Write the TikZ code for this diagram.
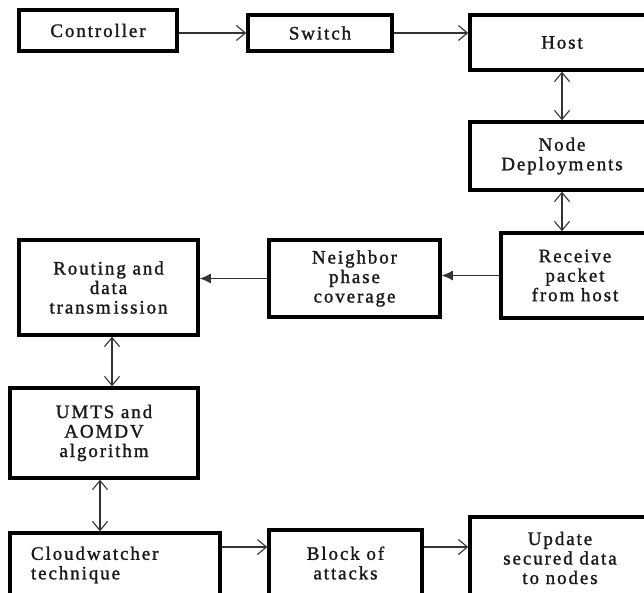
\documentclass[tikz,border=0pt]{standalone}
\usepackage{fontspec}
\setmainfont{Liberation Serif}[LetterSpace=10, FakeBold=1.3]
\usetikzlibrary{arrows.meta}
\begin{document}
\begin{tikzpicture}[x=1pt,y=-1pt,
  box/.style={draw=black, line width=3.5pt, fill=white, inner sep=0pt,
    align=center, font=\fontsize{19}{19.5}\selectfont, text=black!90},
  link/.style={draw=black!80, line width=1.1pt},
  openarrow/.style={link, -{Straight Barb[length=9pt,width=15pt]}},
  twoway/.style={link, {Straight Barb[length=9pt,width=15pt]}-{Straight Barb[length=9pt,width=15pt]}},
  fillarrow/.style={link, -{Latex[length=11pt,width=10pt]}}]

% page area
\useasboundingbox (0,0) rectangle (644,593);
\fill[white] (0,0) rectangle (644,593);
\clip (0,0) rectangle (644,593);

% top row
\node[box, minimum width=158, minimum height=41] (ctrl) at (98,30.5) {Controller};
\node[box, minimum width=144, minimum height=36] (sw) at (320,33) {Switch};
\node[box, minimum width=184, minimum height=55] (host) at (562,42.5) {Host};

% right column
\node[box, minimum width=184, minimum height=68] (deploy) at (562,156) {Node\\Deploym\kern3pt ents};
\node[box, minimum width=148, minimum height=85] (recv) at (575,275.5) {Receive\\packet\\from host};

% middle row
\node[box, minimum width=171, minimum height=77] (nb) at (354.5,278.5) {Neighbor\\phase\\coverage};
\node[box, minimum width=179, minimum height=95] (rout) at (108.5,287.5) {Routing and\\data\\transm\kern3pt ission};

% left column
\node[box, minimum width=188, minimum height=90] (umts) at (104,433) {UMTS and\\AOMDV\\algorithm};

% bottom row
\node[box, text width=168pt, inner xsep=21pt, align=left, minimum height=64] (cloud) at (115,565) {Cloudwatcher\\technique};
\node[box, minimum width=153, minimum height=66] (blk) at (345.5,563) {Block of\\attacks};
\node[box, minimum width=180, minimum height=82] (upd) at (560,558) {Update\\secured data\\to nodes};

% connectors
\coordinate (toprow) at (0,33);
\coordinate (lowrow) at (0,547);
\draw[openarrow] (ctrl.east |- toprow) -- (sw.west |- toprow);
\draw[openarrow] (sw.east |- toprow) -- (host.west |- toprow);
\draw[twoway] (host.south) -- (deploy.north);
\draw[twoway] (deploy.south) -- (deploy.south |- recv.north);
\draw[fillarrow] (recv.west) -- (recv.west -| nb.east);
\draw[fillarrow] (nb.west) -- (nb.west -| rout.east);
\draw[twoway] ([xshift=3.5pt]rout.south) -- ([xshift=3.5pt]rout.south |- umts.north);
\draw[twoway] ([xshift=-4pt]umts.south) -- ([xshift=-4pt]umts.south |- cloud.north);
\draw[openarrow] (cloud.east |- lowrow) -- (blk.west |- lowrow);
\draw[openarrow] (blk.east |- lowrow) -- (upd.west |- lowrow);
\end{tikzpicture}
\end{document}
